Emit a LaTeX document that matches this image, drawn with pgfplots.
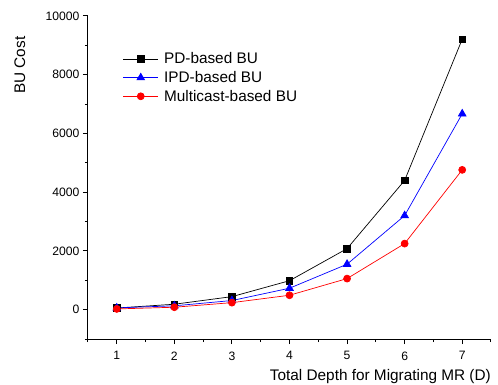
\documentclass[border=0pt]{standalone}
\usepackage{fontspec}
\setmainfont{Liberation Sans}
\usepackage{pgfplots}
\pgfplotsset{compat=1.18}
\begin{document}
\begin{tikzpicture}
\useasboundingbox (-88bp,-46bp) rectangle (410bp,339bp);
\begin{axis}[
  scale only axis, width=403bp, height=323bp,
  xmin=0.5, xmax=7.5, ymin=-1000, ymax=10000,
  axis x line=bottom, axis y line=left,
  axis line style={-, line width=1bp},
  xtick={1,...,7}, minor xtick={0.5,1.5,...,7.5},
  ytick={0,2000,...,10000}, minor ytick={-1000,1000,...,9000},
  scaled ticks=false,
  tick align=outside, major tick length=5bp, minor tick length=3bp,
  tick style={line width=1bp, black},
  tick label style={font=\fontsize{12.2}{14}\selectfont},
  xticklabel style={yshift=-4bp},
  /pgf/number format/assume math mode=true,
  /pgf/number format/1000 sep={},
  xlabel={Total Depth for Migrating MR (D)},
  ylabel={BU Cost},
  label style={font=\fontsize{15.4}{18}\selectfont},
  xlabel style={at={(axis description cs:1,-0.117)}, anchor=east, inner sep=0pt},
  ylabel style={at={(axis description cs:-0.169,0.848)}, anchor=center, inner sep=0pt},
  legend style={draw=none, fill=none, font=\fontsize{15.4}{18}\selectfont,
    at={(axis description cs:0.0861,0.809)}, anchor=west, inner sep=0pt,
    row sep=2bp, cells={anchor=west}},
  legend image code/.code={\draw[mark repeat=2,mark phase=2,#1] plot coordinates {(0bp,0bp)(17.5bp,0bp)(35bp,0bp)};\path (38.5bp,0bp);},
]
\addplot[black, line width=0.7bp, mark=square*, mark size=3.3bp, mark options={solid}]
  coordinates {(1,55)(2,184)(3,443)(4,985)(5,2078)(6,4400)(7,9210)};
\addlegendentry{PD-based BU}
\addplot[blue, line width=0.7bp, mark=triangle*, mark size=4.4bp, mark options={solid}]
  coordinates {(1,60)(2,130)(3,310)(4,729)(5,1547)(6,3203)(7,6668)};
\addlegendentry{IPD-based BU}
\addplot[red, line width=0.7bp, mark=*, mark size=3.5bp, mark options={solid}]
  coordinates {(1,24)(2,82)(3,238)(4,490)(5,1057)(6,2249)(7,4760)};
\addlegendentry{Multicast-based BU}
\end{axis}
\end{tikzpicture}
\end{document}
